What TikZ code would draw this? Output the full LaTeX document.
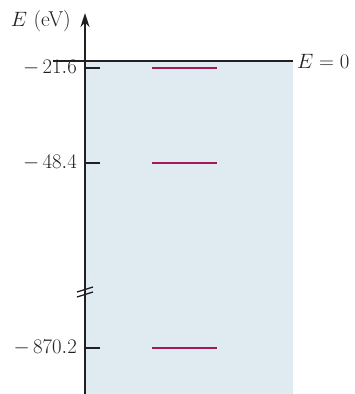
\documentclass[tikz,border=0pt]{standalone}
\usetikzlibrary{arrows.meta}
\definecolor{wellblue}{HTML}{DFEBF1}
\definecolor{levelred}{HTML}{A3195B}
\definecolor{inkgray}{HTML}{231F20}
\tikzset{
  axisline/.style={draw=inkgray, line width=2.2pt},
  ticklineA/.style={draw=inkgray, line width=1.8pt},
  levelline/.style={draw=levelred, line width=1.8pt},
  breakline/.style={draw=inkgray, line width=1.3pt},
  lbl/.style={inner sep=0pt, text=inkgray}
}
\begin{document}
\begin{tikzpicture}[x=1pt,y=-1pt, font=\fontsize{21.5}{24}\selectfont]
\useasboundingbox (0,0) rectangle (355,394);
% well region
\fill[wellblue] (85,61) rectangle (293,394);
% coordinates
\coordinate (axbot) at (85,394);
\coordinate (axtop) at (85,13);
\coordinate (zl) at (53,61);
\coordinate (zr) at (293,61);
\coordinate (t1) at (85,68);
\coordinate (t2) at (85,163);
\coordinate (t3) at (85,348);
\coordinate (t1e) at (100,68);
\coordinate (t2e) at (100,163);
\coordinate (t3e) at (100,348);
\coordinate (l1a) at (152,68);  \coordinate (l1b) at (217,68);
\coordinate (l2a) at (152,163); \coordinate (l2b) at (217,163);
\coordinate (l3a) at (152,348); \coordinate (l3b) at (217,348);
\coordinate (b1a) at (77,292); \coordinate (b1b) at (93,287);
\coordinate (b2a) at (77,297); \coordinate (b2b) at (93,292);
% E = 0 line
\draw[axisline] (zl) -- (zr);
% axis
\draw[axisline, -{Stealth[length=14pt,width=9pt]}] (axbot) -- (axtop);
% break mark
\draw[breakline] (b1a) -- (b1b);
\draw[breakline] (b2a) -- (b2b);
% ticks
\draw[ticklineA] (t1) -- (t1e);
\draw[ticklineA] (t2) -- (t2e);
\draw[ticklineA] (t3) -- (t3e);
% levels
\draw[levelline] (l1a) -- (l1b);
\draw[levelline] (l2a) -- (l2b);
\draw[levelline] (l3a) -- (l3b);
% labels
\node[lbl, anchor=east] (lab1) at (77,68) {$-\,21.6$};
\node[lbl, anchor=east] (lab2) at (77,163) {$-\,48.4$};
\node[lbl, anchor=east] (lab3) at (77,348) {$-\,870.2$};
\node[lbl, anchor=east] (ylab) at (71,21) {$E$ (eV)};
\node[lbl, anchor=west] (zlab) at (297,61) {$E = 0$};
\end{tikzpicture}
\end{document}
